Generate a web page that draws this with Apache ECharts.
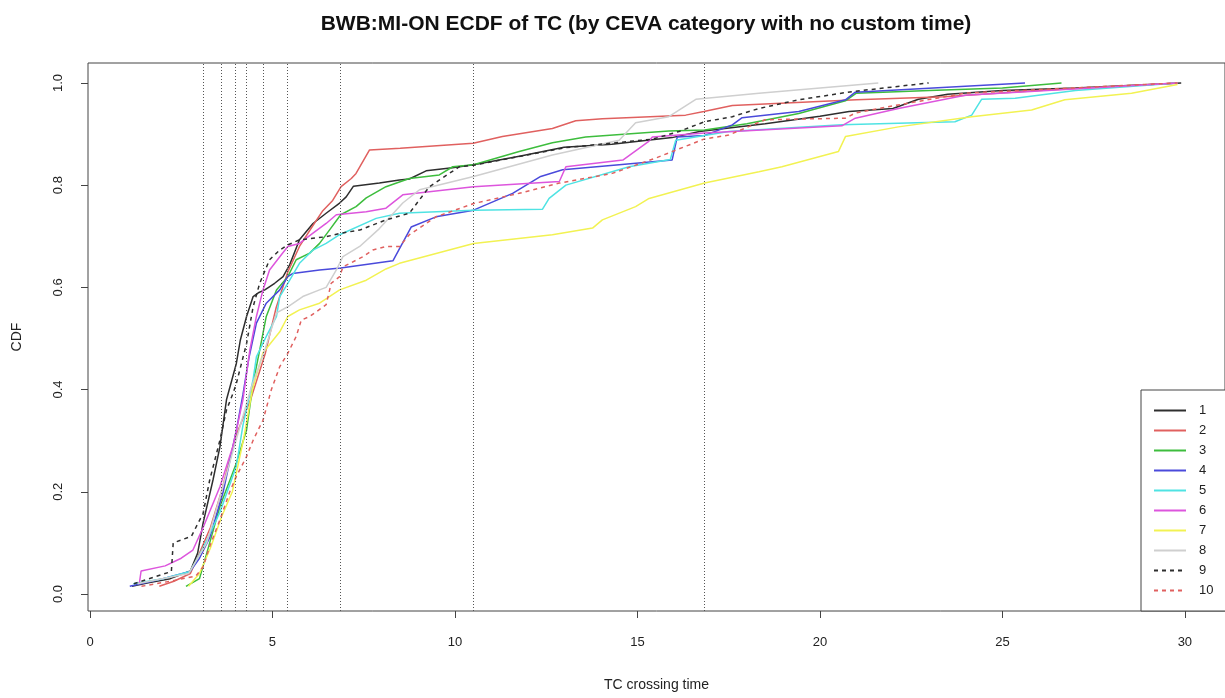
<!DOCTYPE html>
<html>
<head>
<meta charset="utf-8">
<script src="https://cdn.jsdelivr.net/npm/echarts@6/dist/echarts.min.js"></script>
<style>
html,body{margin:0;padding:0;background:#fff;}
#chart{width:1225px;height:698px;}
</style>
</head>
<body>
<div id="chart"></div>
<script>
// ---- data ----
const categories = ['1','2','3','4','5','6','7','8','9','10'];
const xTicks = [0,5,10,15,20,25,30];
const yTicks = [0,0.2,0.4,0.6,0.8,1.0];
const vLines = [3.10,3.60,3.99,4.29,4.76,5.41,6.87,10.51,16.84];

const cat1 = [[1.15,0.015],[1.6,0.022],[2.2,0.03],[2.75,0.045],[2.95,0.08],[3.1,0.139],[3.37,0.223],[3.56,0.288],[3.74,0.38],[4.01,0.451],[4.12,0.497],[4.29,0.543],[4.47,0.582],[4.63,0.59],[4.79,0.595],[5.06,0.608],[5.29,0.621],[5.47,0.644],[5.74,0.693],[6.11,0.725],[6.47,0.745],[6.84,0.765],[7.02,0.777],[7.22,0.798],[7.93,0.804],[8.48,0.81],[8.75,0.812],[9.21,0.828],[9.93,0.834],[10.51,0.84],[11.8,0.857],[12.99,0.874],[14.3,0.88],[15.95,0.893],[16.7,0.905],[18.5,0.92],[20,0.935],[20.8,0.944],[22,0.95],[22.7,0.968],[23.5,0.978],[25,0.985],[27,0.99],[29.9,1.0]];
const cat2 = [[1.9,0.015],[2.3,0.025],[2.75,0.04],[3.0,0.08],[3.3,0.13],[3.6,0.2],[4.0,0.31],[4.4,0.38],[4.8,0.47],[5.1,0.56],[5.42,0.63],[5.74,0.68],[6.1,0.72],[6.38,0.75],[6.65,0.77],[6.88,0.797],[7.16,0.813],[7.29,0.823],[7.66,0.869],[8.5,0.872],[10.5,0.882],[11.3,0.895],[12.67,0.911],[13.31,0.926],[14.04,0.93],[16.32,0.937],[16.82,0.944],[17.6,0.956],[21,0.967],[23.4,0.973],[26,0.985],[29.8,1.0]];
const cat3 = [[2.63,0.015],[3.0,0.03],[3.2,0.08],[3.56,0.171],[4.01,0.256],[4.29,0.321],[4.47,0.413],[4.65,0.477],[4.83,0.543],[5.11,0.595],[5.42,0.621],[5.65,0.654],[6.02,0.667],[6.29,0.686],[6.56,0.712],[6.87,0.742],[7.29,0.758],[7.57,0.775],[8.11,0.797],[8.75,0.813],[9.57,0.82],[9.94,0.836],[10.51,0.84],[11.76,0.866],[12.67,0.883],[13.58,0.894],[15.86,0.906],[16.84,0.908],[18,0.92],[19.42,0.94],[20.7,0.965],[21,0.98],[23,0.985],[25,0.99],[26.62,1.0]];
const cat4 = [[1.09,0.015],[2.0,0.03],[2.74,0.044],[3.0,0.07],[3.28,0.11],[3.65,0.2],[4.01,0.32],[4.19,0.39],[4.35,0.46],[4.56,0.53],[4.83,0.569],[5.2,0.595],[5.42,0.621],[5.55,0.627],[6.29,0.634],[6.87,0.638],[8.3,0.652],[8.8,0.718],[9.48,0.738],[10.51,0.751],[11.58,0.784],[12.35,0.817],[12.95,0.83],[14.5,0.84],[15.95,0.849],[16.09,0.894],[16.84,0.897],[17.6,0.918],[17.87,0.932],[19.42,0.944],[20.7,0.967],[20.97,0.982],[25.62,1.0]];
const cat5 = [[1.19,0.02],[2.0,0.03],[2.74,0.044],[3.1,0.09],[3.56,0.16],[4.01,0.25],[4.19,0.33],[4.47,0.42],[4.56,0.464],[4.83,0.504],[5.11,0.543],[5.2,0.582],[5.42,0.608],[5.74,0.647],[6.11,0.673],[6.47,0.686],[6.84,0.703],[7.84,0.735],[8.48,0.745],[10.51,0.751],[12.4,0.753],[12.58,0.774],[13.04,0.8],[14.77,0.836],[15.9,0.85],[16.05,0.888],[17.5,0.905],[20.6,0.918],[23.7,0.924],[24.16,0.937],[24.43,0.968],[25.35,0.97],[27,0.985],[29.8,1.0]];
const cat6 = [[1.35,0.02],[1.4,0.045],[2.06,0.055],[2.5,0.07],[2.82,0.086],[3.1,0.13],[3.56,0.21],[3.92,0.29],[4.19,0.38],[4.38,0.477],[4.56,0.543],[4.74,0.595],[4.92,0.634],[5.2,0.66],[5.42,0.68],[5.74,0.686],[6.11,0.706],[6.47,0.725],[6.75,0.742],[7.57,0.748],[8.11,0.755],[8.57,0.781],[10.51,0.797],[12.86,0.807],[13.04,0.836],[14.6,0.849],[15.3,0.885],[15.41,0.894],[16.84,0.902],[20.6,0.916],[20.97,0.931],[22.15,0.95],[23.98,0.976],[29.8,1.0]];
const cat7 = [[2.7,0.015],[3.0,0.04],[3.3,0.09],[3.6,0.15],[3.9,0.2],[4.2,0.3],[4.45,0.4],[4.74,0.472],[5.2,0.513],[5.42,0.543],[5.74,0.556],[6.29,0.569],[6.84,0.595],[7.57,0.614],[8.11,0.636],[8.48,0.647],[10.51,0.686],[12.67,0.703],[13.77,0.716],[14.04,0.732],[14.95,0.758],[15.32,0.774],[16.84,0.804],[18.33,0.826],[18.96,0.836],[20.51,0.866],[20.7,0.895],[22.15,0.914],[24.16,0.934],[25.8,0.947],[26.71,0.967],[28.54,0.98],[29.8,0.997]];
const cat8 = [[1.3,0.02],[2.7,0.04],[3.2,0.1],[3.6,0.2],[4.0,0.3],[4.4,0.4],[4.8,0.48],[5.11,0.55],[5.42,0.562],[5.83,0.582],[6.29,0.595],[6.47,0.6],[6.75,0.634],[6.93,0.66],[7.39,0.68],[7.93,0.715],[8.57,0.765],[9.03,0.791],[10.51,0.817],[12.67,0.859],[14.5,0.888],[14.95,0.922],[15.86,0.934],[16.6,0.968],[18.33,0.98],[21.6,1.0]];
const cat9 = [[1.2,0.02],[2.23,0.044],[2.28,0.1],[2.78,0.113],[3.1,0.158],[3.28,0.223],[3.56,0.301],[3.74,0.36],[3.92,0.393],[4.01,0.412],[4.29,0.49],[4.47,0.562],[4.65,0.608],[4.92,0.654],[5.2,0.673],[5.42,0.683],[5.74,0.693],[6.47,0.699],[6.87,0.706],[7.39,0.712],[8.11,0.732],[8.75,0.745],[9.3,0.797],[10.12,0.836],[10.51,0.839],[11.76,0.856],[12.99,0.873],[15.41,0.89],[16.14,0.905],[16.84,0.924],[17.6,0.934],[18.33,0.95],[19.42,0.967],[20.88,0.983],[22.98,1.0]];
const cat10 = [[1.41,0.015],[2.2,0.025],[2.9,0.035],[3.1,0.053],[3.28,0.093],[3.56,0.145],[3.83,0.2],[4.01,0.23],[4.29,0.269],[4.47,0.301],[4.74,0.34],[4.97,0.4],[5.2,0.445],[5.42,0.471],[5.65,0.504],[5.79,0.536],[6.02,0.543],[6.47,0.566],[6.61,0.608],[6.84,0.621],[6.93,0.64],[7.48,0.66],[7.75,0.673],[8.11,0.68],[8.48,0.68],[8.75,0.703],[8.94,0.712],[9.48,0.738],[10.51,0.764],[11.76,0.784],[12.86,0.804],[14.31,0.823],[15.5,0.853],[16.82,0.89],[17.5,0.898],[18.5,0.928],[20.7,0.931],[20.97,0.941],[22.15,0.957],[23.98,0.98],[29.8,1.0]];

const seriesData = [cat1,cat2,cat3,cat4,cat5,cat6,cat7,cat8,cat9,cat10];

// ---- styles ----
const colors = ['#2e2e2e','#e0605f','#3dbd3d','#4a4adb','#4fe3e3','#dd55dd','#f2f252','#cfcfcf','#2e2e2e','#e0605f'];
const dashed = [false,false,false,false,false,false,false,false,true,true];
const FONT = '"Liberation Sans", Arial, Helvetica, sans-serif';

const series = seriesData.map((d,i)=>({
  name: categories[i],
  type: 'line',
  data: d,
  symbol: 'none',
  showSymbol: false,
  smooth: false,
  animation: false,
  lineStyle: {color: colors[i], width: 1.5, type: dashed[i] ? [4,4] : 'solid'},
  itemStyle: {color: colors[i]},
  z: 3
}));

series.unshift({
  name: 'vlines',
  type: 'line',
  data: [],
  symbol: 'none',
  animation: false,
  markLine: {
    silent: true,
    symbol: ['none','none'],
    label: {show: false},
    animation: false,
    lineStyle: {color: '#555', width: 1, type: [1,2]},
    data: vLines.map(v => ({xAxis: v}))
  },
  z: 2
});

const chart = echarts.init(document.getElementById('chart'), null, {renderer: 'canvas'});
chart.setOption({
  animation: false,
  backgroundColor: '#fff',
  title: {
    text: 'BWB:MI-ON ECDF of TC (by CEVA category with no custom time)',
    left: 641, top: 9, textAlign: 'center',
    textStyle: {fontFamily: FONT, fontWeight: 'bold', fontSize: 21, color: '#111'}
  },
  grid: {left: 88, right: -2, top: 63, bottom: 87, show: true, borderColor: '#444', borderWidth: 1, containLabel: false},
  legend: {
    data: categories,
    orient: 'vertical',
    left: 1141, top: 390,
    padding: [14, 60, 14, 12],
    itemWidth: 32, itemHeight: 13, itemGap: 7,
    itemStyle: {opacity: 0},
    borderColor: '#444', borderWidth: 1, backgroundColor: '#fff',
    textStyle: {fontFamily: FONT, fontSize: 13, color: '#222', padding: [0,0,0,8]}
  },
  xAxis: {
    type: 'value', min: -0.0547, max: 31.1,
    axisLine: {show: false, onZero: false},
    splitLine: {show: false},
    axisTick: {show: true, length: 7, customValues: xTicks, lineStyle: {color: '#444'}},
    axisLabel: {customValues: xTicks, margin: 25, fontSize: 13, color: '#222', fontFamily: FONT, formatter: v => String(v)},
    name: 'TC crossing time', nameLocation: 'middle', nameGap: 67,
    nameTextStyle: {fontFamily: FONT, fontSize: 14, color: '#222'}
  },
  yAxis: {
    type: 'value', min: -0.0333, max: 1.039,
    axisLine: {show: false, onZero: false},
    splitLine: {show: false},
    axisTick: {show: true, length: 7, customValues: yTicks, lineStyle: {color: '#444'}},
    axisLabel: {customValues: yTicks, rotate: 90, margin: 23, fontSize: 13, color: '#222', fontFamily: FONT, formatter: v => v.toFixed(1)},
    name: 'CDF', nameLocation: 'middle', nameRotate: 90, nameGap: 64,
    nameTextStyle: {fontFamily: FONT, fontSize: 14, color: '#222'}
  },
  series: series
});
</script>
</body>
</html>
